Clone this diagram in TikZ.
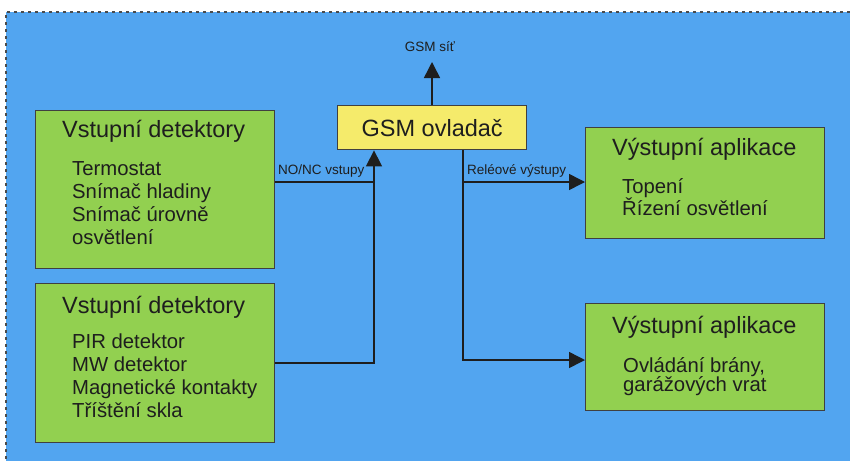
\documentclass[tikz,border=0pt]{standalone}
\usepackage{fontspec}
\setmainfont{Liberation Sans}
\usetikzlibrary{arrows.meta}
\definecolor{bgblue}{HTML}{52A5F0}
\definecolor{boxgreen}{HTML}{92D050}
\definecolor{boxyellow}{HTML}{F5EB6B}
\definecolor{ink}{HTML}{1E1E1E}
\tikzset{
  panel/.style={draw=ink!85, line width=1.4pt, fill=boxgreen, anchor=north west, inner sep=0pt},
  ctrl/.style={draw=ink!85, line width=1.4pt, fill=boxyellow, anchor=north west, inner sep=0pt},
  headtxt/.style={anchor=base west, inner sep=0pt, text=ink, font=\fontsize{23.5}{26}\selectfont},
  bodytxt/.style={anchor=base west, inner sep=0pt, text=ink, font=\fontsize{20.3}{23}\selectfont},
  smalltxt/.style={anchor=base west, inner sep=0pt, text=ink, font=\fontsize{13.5}{15}\selectfont},
  conn/.style={draw=ink, line width=1.5pt},
  arr/.style={conn, -{Triangle[length=16pt,width=16pt]}}
}
\begin{document}
\begin{tikzpicture}[x=1pt,y=-1pt]
\useasboundingbox (0,0) rectangle (850,461);
% backdrop with dashed frame on top and left
\fill[bgblue] (6,12) rectangle (850,461);
\draw[ink!80, line width=1.3pt, dash pattern=on 3pt off 4pt] (850,12) -- (6,12) -- (6,461);

% boxes
\node[panel, minimum width=239pt, minimum height=158pt] (in1) at (35,110) {};
\node[panel, minimum width=239pt, minimum height=159pt] (in2) at (35,283) {};
\node[ctrl, minimum width=189pt, minimum height=44pt] (gsm) at (337,105) {};
\node[panel, minimum width=239pt, minimum height=111pt] (out1) at (585,127) {};
\node[panel, minimum width=239pt, minimum height=107pt] (out2) at (585,303) {};

% controller caption
\node[inner sep=0pt, text=ink, font=\fontsize{23.5}{26}\selectfont] (gsmtxt) at (gsm.center) {GSM ovladač};

% input box 1
\node[headtxt] (in1h) at (62,137) {Vstupní detektory};
\node[bodytxt] (in1a) at (72,175) {Termostat};
\node[bodytxt] (in1b) at (72,198) {Snímač hladiny};
\node[bodytxt] (in1c) at (72,221) {Snímač úrovně};
\node[bodytxt] (in1d) at (72,244) {osvětlení};

% input box 2
\node[headtxt] (in2h) at (62,313) {Vstupní detektory};
\node[bodytxt] (in2a) at (72,348) {PIR detektor};
\node[bodytxt] (in2b) at (72,371) {MW detektor};
\node[bodytxt] (in2c) at (72,394) {Magnetické kontakty};
\node[bodytxt] (in2d) at (72,417) {Tříštění skla};

% output box 1
\node[headtxt] (out1h) at (612,155) {Výstupní aplikace};
\node[bodytxt] (out1a) at (622,193) {Topení};
\node[bodytxt] (out1b) at (622,215) {Řízení osvětlení};

% output box 2
\node[headtxt] (out2h) at (612,333) {Výstupní aplikace};
\node[bodytxt] (out2a) at (623,372) {Ovládání brány,};
\node[bodytxt] (out2b) at (623,391) {garážových vrat};

% junction points
\coordinate (j1) at (374,182);
\coordinate (j2) at (374,363);
\coordinate (k1) at (463,182);
\coordinate (k2) at (463,360);
\coordinate (net) at (432,62);

% connectors
\draw[conn] (in1.east |- j1) -- (j1);
\draw[arr] (in2.east |- j2) -- (j2) -- (gsm.south -| j2);
\draw[arr] (gsm.south -| k2) -- (k2) -- (out2.west |- k2);
\draw[arr] (k1) -- (out1.west |- k1);
\draw[arr] (gsm.north -| net) -- (net);

% connector labels
\node[smalltxt, anchor=base] (netlbl) at (430,51) {GSM síť};
\node[smalltxt] (inlbl) at (278,174) {NO/NC vstupy};
\node[smalltxt] (outlbl) at (467,174) {Reléové výstupy};
\end{tikzpicture}
\end{document}
